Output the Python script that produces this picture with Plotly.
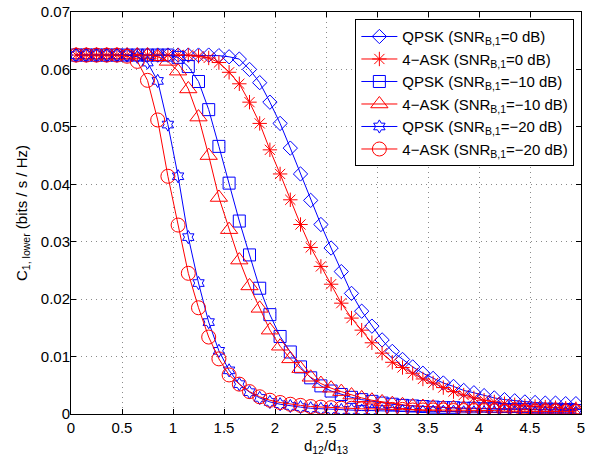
import plotly.graph_objects as go

# x positions (d12/d13)
x_vals = [0.05, 0.15, 0.25, 0.35, 0.45, 0.55, 0.65, 0.75, 0.85, 0.95,
          1.05, 1.15, 1.25, 1.35, 1.45, 1.55, 1.65, 1.75, 1.85, 1.95,
          2.05, 2.15, 2.25, 2.35, 2.45, 2.55, 2.65, 2.75, 2.85, 2.95,
          3.05, 3.15, 3.25, 3.35, 3.45, 3.55, 3.65, 3.75, 3.85, 3.95,
          4.05, 4.15, 4.25, 4.35, 4.45, 4.55, 4.65, 4.75, 4.85, 4.95]

qpsk_0 = [0.0625, 0.0625, 0.0625, 0.0625, 0.0625, 0.0625, 0.0625, 0.0625, 0.0625, 0.0625,
          0.0625, 0.0625, 0.0625, 0.0625, 0.0624, 0.0622, 0.0618, 0.0600, 0.0577, 0.0543,
          0.0506, 0.0463, 0.0418, 0.0372, 0.0330, 0.0289, 0.0248, 0.0210, 0.0179, 0.0153,
          0.0129, 0.0109, 0.0095, 0.0082, 0.0071, 0.0062, 0.0054, 0.0048, 0.0041, 0.0037,
          0.0032, 0.0028, 0.0025, 0.0023, 0.0021, 0.0020, 0.0019, 0.0019, 0.0018, 0.0018]

ask_0 = [0.0625, 0.0625, 0.0625, 0.0625, 0.0625, 0.0625, 0.0625, 0.0625, 0.0625, 0.0625,
         0.0625, 0.0625, 0.0623, 0.0620, 0.0612, 0.0595, 0.0575, 0.0543, 0.0506, 0.0460,
         0.0418, 0.0373, 0.0330, 0.0290, 0.0257, 0.0226, 0.0193, 0.0167, 0.0146, 0.0124,
         0.0106, 0.0090, 0.0081, 0.0071, 0.0061, 0.0054, 0.0046, 0.0039, 0.0033, 0.0028,
         0.0024, 0.0021, 0.0018, 0.0016, 0.0014, 0.0013, 0.0012, 0.0011, 0.0010, 0.0009]

qpsk_m10 = [0.0625, 0.0625, 0.0625, 0.0625, 0.0625, 0.0625, 0.0625, 0.0625, 0.0625, 0.0625,
            0.0621, 0.0605, 0.0579, 0.0530, 0.0466, 0.0402, 0.0336, 0.0277, 0.0219, 0.0173,
            0.0135, 0.0108, 0.0082, 0.0063, 0.0049, 0.0040, 0.0034, 0.0029, 0.0025, 0.0022,
            0.0019, 0.0017, 0.0015, 0.0014, 0.0013, 0.0012, 0.0011, 0.0011, 0.0010, 0.0010,
            0.0009, 0.0009, 0.0008, 0.0008, 0.0008, 0.0007, 0.0007, 0.0007, 0.0006, 0.0006]

ask_m10 = [0.0625, 0.0625, 0.0625, 0.0625, 0.0625, 0.0625, 0.0625, 0.0625, 0.0622, 0.0614,
           0.0597, 0.0566, 0.0517, 0.0450, 0.0377, 0.0321, 0.0268, 0.0223, 0.0184, 0.0146,
           0.0118, 0.0096, 0.0079, 0.0064, 0.0053, 0.0045, 0.0039, 0.0033, 0.0028, 0.0024,
           0.0021, 0.0018, 0.0016, 0.0014, 0.0013, 0.0012, 0.0011, 0.0011, 0.0010, 0.0010,
           0.0010, 0.0009, 0.0009, 0.0009, 0.0008, 0.0008, 0.0008, 0.0008, 0.0007, 0.0007]

qpsk_m20 = [0.0625, 0.0625, 0.0625, 0.0625, 0.0625, 0.0625, 0.0622, 0.0612, 0.0580, 0.0504,
            0.0414, 0.0308, 0.0228, 0.0160, 0.0110, 0.0076, 0.0052, 0.0038, 0.0028, 0.0021,
            0.0017, 0.0014, 0.0012, 0.0010, 0.0009, 0.0008, 0.0007, 0.0007, 0.0006, 0.0006,
            0.0005, 0.0005, 0.0005, 0.0004, 0.0004, 0.0004, 0.0004, 0.0004, 0.0003, 0.0003,
            0.0003, 0.0003, 0.0003, 0.0003, 0.0003, 0.0002, 0.0002, 0.0002, 0.0002, 0.0002]

ask_m20 = [0.0625, 0.0625, 0.0625, 0.0625, 0.0625, 0.0623, 0.0614, 0.0581, 0.0512, 0.0414,
           0.0329, 0.0245, 0.0185, 0.0134, 0.0096, 0.0068, 0.0052, 0.0039, 0.0030, 0.0024,
           0.0020, 0.0017, 0.0015, 0.0013, 0.0012, 0.0011, 0.0010, 0.0010, 0.0009, 0.0009,
           0.0008, 0.0008, 0.0008, 0.0007, 0.0007, 0.0007, 0.0007, 0.0006, 0.0006, 0.0006,
           0.0006, 0.0006, 0.0005, 0.0005, 0.0005, 0.0005, 0.0005, 0.0005, 0.0004, 0.0004]

series_names = ["QPSK (SNR<sub>B,1</sub>=0 dB)", "4\u2212ASK (SNR<sub>B,1</sub>=0 dB)",
                "QPSK (SNR<sub>B,1</sub>=\u221210 dB)", "4\u2212ASK (SNR<sub>B,1</sub>=\u221210 dB)",
                "QPSK (SNR<sub>B,1</sub>=\u221220 dB)", "4\u2212ASK (SNR<sub>B,1</sub>=\u221220 dB)"]
series_data = [qpsk_0, ask_0, qpsk_m10, ask_m10, qpsk_m20, ask_m20]
series_colors = ["#0000ff", "#ff0000", "#0000ff", "#ff0000", "#0000ff", "#ff0000"]
series_symbols = ["diamond-open", "asterisk-open", "square-open", "triangle-up-open",
                  "hexagram-open", "circle-open"]
series_sizes = [11, 12, 12, 15, 10, 14]

FONT = "Liberation Sans, Arial, Helvetica, sans-serif"

fig = go.Figure()
for i, (name, ys, col, sym, sz) in enumerate(zip(series_names, series_data, series_colors,
                                                 series_symbols, series_sizes)):
    fig.add_trace(go.Scatter(
        x=x_vals, y=ys, name=name, mode="lines+markers",
        legendgroup=f"g{i}",
        line=dict(color=col, width=1),
        marker=dict(symbol=sym, size=sz, color=col, line=dict(color=col, width=1)),
    ))

fig.update_layout(
    width=589, height=456,
    margin=dict(l=71, r=8, t=12, b=42, autoexpand=False),
    paper_bgcolor="white", plot_bgcolor="white",
    font=dict(family=FONT, size=15, color="black"),
    showlegend=True,
    legend=dict(
        x=0.987, y=0.982, xanchor="right", yanchor="top",
        bgcolor="white", bordercolor="black", borderwidth=1,
        font=dict(family=FONT, size=15, color="black"),
        itemwidth=36, tracegroupgap=2, traceorder="normal",
    ),
    xaxis=dict(
        range=[0, 5], dtick=0.5, tick0=0, automargin=False,
        showline=True, linecolor="black", linewidth=1, mirror="ticks",
        ticks="inside", ticklen=5, tickcolor="black",
        showgrid=True, gridcolor="#8a8a8a", griddash="1px,4px", gridwidth=1,
        zeroline=False,
        title=dict(text="d<sub>12</sub>/d<sub>13</sub>", standoff=7,
                   font=dict(family=FONT, size=15)),
    ),
    yaxis=dict(
        range=[0, 0.07], dtick=0.01, tick0=0, automargin=False,
        showline=True, linecolor="black", linewidth=1, mirror="ticks",
        ticks="inside", ticklen=5, tickcolor="black", ticklabelstandoff=-3,
        showgrid=True, gridcolor="#8a8a8a", griddash="1px,4px", gridwidth=1,
        zeroline=False,
        title=dict(text="C<sub>1, lower</sub> (bits / s / Hz)", standoff=9,
                   font=dict(family=FONT, size=15)),
    ),
)

fig.write_html("out.html")
